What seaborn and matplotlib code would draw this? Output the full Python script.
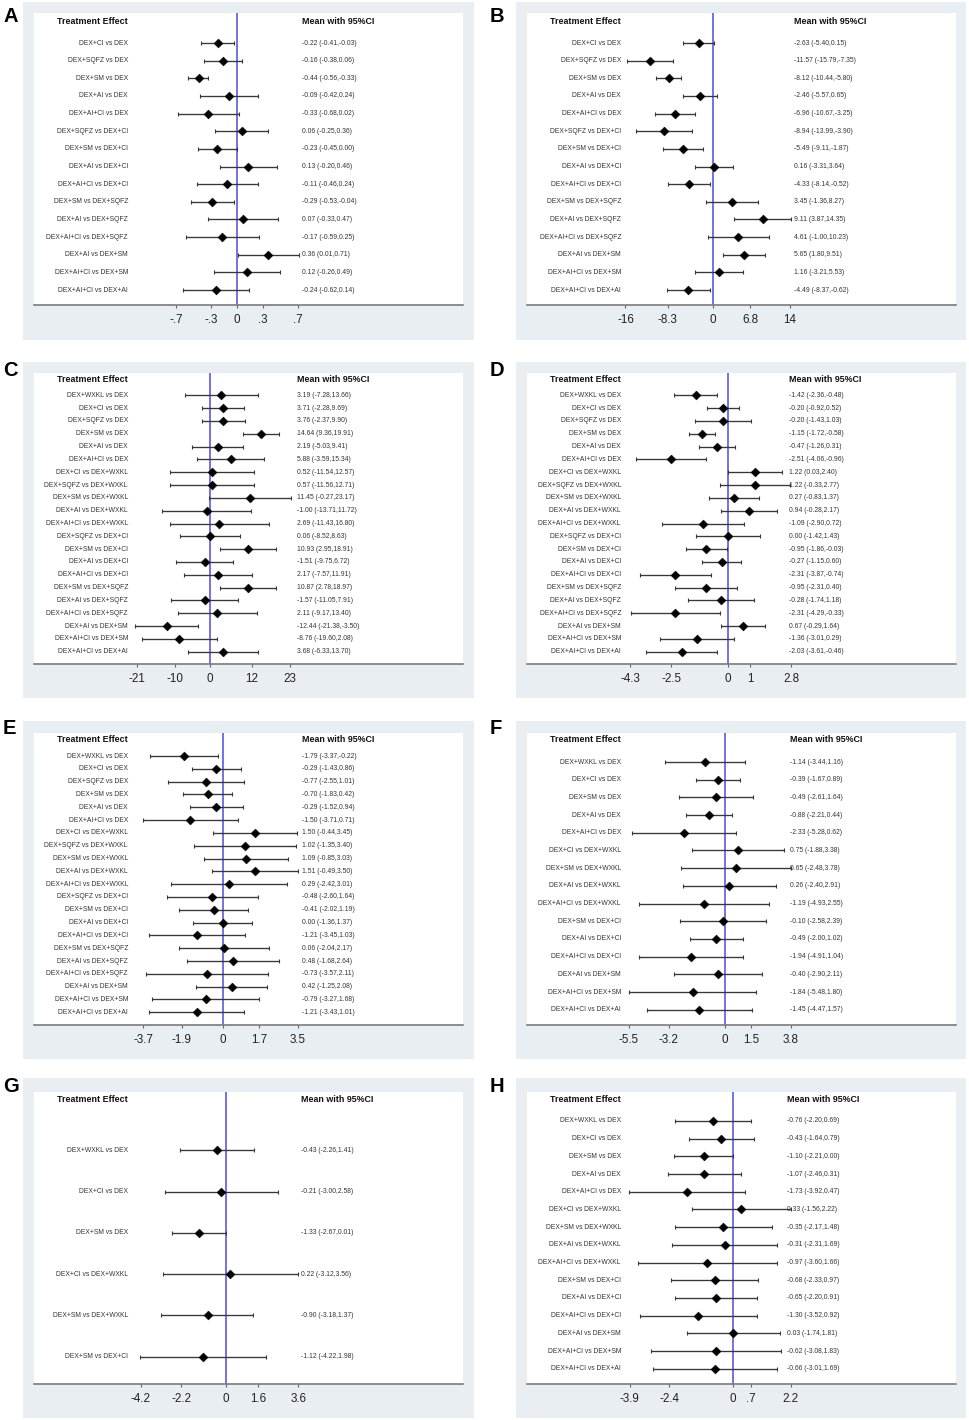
import numpy as np
import pandas as pd
import matplotlib
matplotlib.use("Agg")
import matplotlib.pyplot as plt
import matplotlib.transforms as mtransforms
from matplotlib.patches import Rectangle
import seaborn as sns

sns.set_theme(style="white")
plt.rcParams['font.family'] = ['Liberation Sans', 'DejaVu Sans']
plt.rcParams['axes.unicode_minus'] = False

# ---------------- DATA ----------------
labels_ab = ["DEX+CI vs DEX", "DEX+SQFZ vs DEX", "DEX+SM vs DEX", "DEX+AI vs DEX",
             "DEX+AI+CI vs DEX", "DEX+SQFZ vs DEX+CI", "DEX+SM vs DEX+CI", "DEX+AI vs DEX+CI",
             "DEX+AI+CI vs DEX+CI", "DEX+SM vs DEX+SQFZ", "DEX+AI vs DEX+SQFZ",
             "DEX+AI+CI vs DEX+SQFZ", "DEX+AI vs DEX+SM", "DEX+AI+CI vs DEX+SM",
             "DEX+AI+CI vs DEX+AI"]
labels_cde = ["DEX+WXKL vs DEX", "DEX+CI vs DEX", "DEX+SQFZ vs DEX", "DEX+SM vs DEX",
              "DEX+AI vs DEX", "DEX+AI+CI vs DEX", "DEX+CI vs DEX+WXKL", "DEX+SQFZ vs DEX+WXKL",
              "DEX+SM vs DEX+WXKL", "DEX+AI vs DEX+WXKL", "DEX+AI+CI vs DEX+WXKL",
              "DEX+SQFZ vs DEX+CI", "DEX+SM vs DEX+CI", "DEX+AI vs DEX+CI", "DEX+AI+CI vs DEX+CI",
              "DEX+SM vs DEX+SQFZ", "DEX+AI vs DEX+SQFZ", "DEX+AI+CI vs DEX+SQFZ",
              "DEX+AI vs DEX+SM", "DEX+AI+CI vs DEX+SM", "DEX+AI+CI vs DEX+AI"]
labels_fh = ["DEX+WXKL vs DEX", "DEX+CI vs DEX", "DEX+SM vs DEX", "DEX+AI vs DEX",
             "DEX+AI+CI vs DEX", "DEX+CI vs DEX+WXKL", "DEX+SM vs DEX+WXKL", "DEX+AI vs DEX+WXKL",
             "DEX+AI+CI vs DEX+WXKL", "DEX+SM vs DEX+CI", "DEX+AI vs DEX+CI",
             "DEX+AI+CI vs DEX+CI", "DEX+AI vs DEX+SM", "DEX+AI+CI vs DEX+SM",
             "DEX+AI+CI vs DEX+AI"]
labels_g = ["DEX+WXKL vs DEX", "DEX+CI vs DEX", "DEX+SM vs DEX", "DEX+CI vs DEX+WXKL",
            "DEX+SM vs DEX+WXKL", "DEX+SM vs DEX+CI"]

mean_a = [-0.22, -0.16, -0.44, -0.09, -0.33, 0.06, -0.23, 0.13, -0.11, -0.29, 0.07, -0.17, 0.36, 0.12, -0.24]
low_a  = [-0.41, -0.38, -0.56, -0.42, -0.68, -0.25, -0.45, -0.20, -0.46, -0.53, -0.33, -0.59, 0.01, -0.26, -0.62]
up_a   = [-0.03, 0.06, -0.33, 0.24, 0.02, 0.36, 0.00, 0.46, 0.24, -0.04, 0.47, 0.25, 0.71, 0.49, 0.14]

mean_b = [-2.63, -11.57, -8.12, -2.46, -6.96, -8.94, -5.49, 0.16, -4.33, 3.45, 9.11, 4.61, 5.65, 1.16, -4.49]
low_b  = [-5.40, -15.79, -10.44, -5.57, -10.67, -13.99, -9.11, -3.31, -8.14, -1.36, 3.87, -1.00, 1.80, -3.21, -8.37]
up_b   = [0.15, -7.35, -5.80, 0.65, -3.25, -3.90, -1.87, 3.64, -0.52, 8.27, 14.35, 10.23, 9.51, 5.53, -0.62]

mean_c = [3.19, 3.71, 3.76, 14.64, 2.19, 5.88, 0.52, 0.57, 11.45, -1.00, 2.69, 0.06, 10.93, -1.51, 2.17, 10.87, -1.57, 2.11, -12.44, -8.76, 3.68]
low_c  = [-7.28, -2.28, -2.37, 9.36, -5.03, -3.59, -11.54, -11.56, -0.27, -13.71, -11.43, -8.52, 2.95, -9.75, -7.57, 2.78, -11.05, -9.17, -21.38, -19.60, -6.33]
up_c   = [13.66, 9.69, 9.90, 19.91, 9.41, 15.34, 12.57, 12.71, 23.17, 11.72, 16.80, 8.63, 18.91, 6.72, 11.91, 18.97, 7.91, 13.40, -3.50, 2.08, 13.70]

mean_d = [-1.42, -0.20, -0.20, -1.15, -0.47, -2.51, 1.22, 1.22, 0.27, 0.94, -1.09, 0.00, -0.95, -0.27, -2.31, -0.95, -0.28, -2.31, 0.67, -1.36, -2.03]
low_d  = [-2.36, -0.92, -1.43, -1.72, -1.26, -4.06, 0.03, -0.33, -0.83, -0.28, -2.90, -1.42, -1.86, -1.15, -3.87, -2.31, -1.74, -4.29, -0.29, -3.01, -3.61]
up_d   = [-0.48, 0.52, 1.03, -0.58, 0.31, -0.96, 2.40, 2.77, 1.37, 2.17, 0.72, 1.43, -0.03, 0.60, -0.74, 0.40, 1.18, -0.33, 1.64, 0.29, -0.46]

mean_e = [-1.79, -0.29, -0.77, -0.70, -0.29, -1.50, 1.50, 1.02, 1.09, 1.51, 0.29, -0.48, -0.41, 0.00, -1.21, 0.06, 0.48, -0.73, 0.42, -0.79, -1.21]
low_e  = [-3.37, -1.43, -2.55, -1.83, -1.52, -3.71, -0.44, -1.35, -0.85, -0.49, -2.42, -2.60, -2.02, -1.36, -3.45, -2.04, -1.68, -3.57, -1.25, -3.27, -3.43]
up_e   = [-0.22, 0.86, 1.01, 0.42, 0.94, 0.71, 3.45, 3.40, 3.03, 3.50, 3.01, 1.64, 1.19, 1.37, 1.03, 2.17, 2.64, 2.11, 2.08, 1.68, 1.01]

mean_f = [-1.14, -0.39, -0.49, -0.88, -2.33, 0.75, 0.65, 0.26, -1.19, -0.10, -0.49, -1.94, -0.40, -1.84, -1.45]
low_f  = [-3.44, -1.67, -2.61, -2.21, -5.28, -1.88, -2.48, -2.40, -4.93, -2.58, -2.00, -4.91, -2.90, -5.48, -4.47]
up_f   = [1.16, 0.89, 1.64, 0.44, 0.62, 3.38, 3.78, 2.91, 2.55, 2.39, 1.02, 1.04, 2.11, 1.80, 1.57]

mean_g = [-0.43, -0.21, -1.33, 0.22, -0.90, -1.12]
low_g  = [-2.26, -3.00, -2.67, -3.12, -3.18, -4.22]
up_g   = [1.41, 2.58, 0.01, 3.56, 1.37, 1.98]

mean_h = [-0.76, -0.43, -1.10, -1.07, -1.73, 0.33, -0.35, -0.31, -0.97, -0.68, -0.65, -1.30, 0.03, -0.62, -0.66]
low_h  = [-2.20, -1.64, -2.21, -2.46, -3.92, -1.56, -2.17, -2.31, -3.60, -2.33, -2.20, -3.52, -1.74, -3.08, -3.01]
up_h   = [0.69, 0.79, 0.00, 0.31, 0.47, 2.22, 1.48, 1.69, 1.66, 0.97, 0.91, 0.92, 1.81, 1.83, 1.69]

ticks_a = [-0.7, -0.3, 0, 0.3, 0.7];   ticklabels_a = ["-.7", "-.3", "0", ".3", ".7"]
ticks_b = [-16, -8.3, 0, 6.8, 14];     ticklabels_b = ["-16", "-8.3", "0", "6.8", "14"]
ticks_c = [-21, -10, 0, 12, 23];       ticklabels_c = ["-21", "-10", "0", "12", "23"]
ticks_d = [-4.3, -2.5, 0, 1, 2.8];     ticklabels_d = ["-4.3", "-2.5", "0", "1", "2.8"]
ticks_e = [-3.7, -1.9, 0, 1.7, 3.5];   ticklabels_e = ["-3.7", "-1.9", "0", "1.7", "3.5"]
ticks_f = [-5.5, -3.2, 0, 1.5, 3.8];   ticklabels_f = ["-5.5", "-3.2", "0", "1.5", "3.8"]
ticks_g = [-4.2, -2.2, 0, 1.6, 3.6];   ticklabels_g = ["-4.2", "-2.2", "0", "1.6", "3.6"]
ticks_h = [-3.9, -2.4, 0, 0.7, 2.2];   ticklabels_h = ["-3.9", "-2.4", "0", ".7", "2.2"]

# ---------------- LAYOUT (pixels) ----------------
W, H = 969, 1420
BG = "#e8eef2"
cols = {0: (23, 474, 34, 463, 3), 1: (516, 966, 527, 956, 490)}
# letter, col, inner_top, axis_y, first_row, last_row, header_y, zero_px, px_per_unit, label_px, stat_px, bg_top, bg_bot, letter_top
layout = [
    ("A", 0, 13, 305, 43, 290, 21, 237, 87.1, 128, 302, 2, 340, 7),
    ("B", 1, 13, 305, 43, 290, 21, 713, 5.47, 621, 794, 2, 340, 7),
    ("C", 0, 373, 664, 395.3, 651.7, 379, 210, 3.49, 128, 297, 362, 698, 361),
    ("D", 1, 373, 664, 395.3, 651.7, 379, 727.7, 22.65, 621, 789, 362, 698, 361),
    ("E", 0, 733, 1025, 756, 1012.3, 740, 222.7, 21.5, 128, 302, 721, 1059, 719),
    ("F", 1, 733, 1025, 762, 1009.7, 740, 724.7, 17.47, 621, 790, 721, 1059, 719),
    ("G", 0, 1092, 1384, 1150.3, 1356.7, 1099, 225.7, 20.2, 128, 300.7, 1078, 1418, 1077),
    ("H", 1, 1092, 1384, 1121, 1368.7, 1099, 732.7, 26.4, 621, 786.7, 1078, 1418, 1077),
]

datasets = {
    "A": (labels_ab, mean_a, low_a, up_a, ticks_a, ticklabels_a),
    "B": (labels_ab, mean_b, low_b, up_b, ticks_b, ticklabels_b),
    "C": (labels_cde, mean_c, low_c, up_c, ticks_c, ticklabels_c),
    "D": (labels_cde, mean_d, low_d, up_d, ticks_d, ticklabels_d),
    "E": (labels_cde, mean_e, low_e, up_e, ticks_e, ticklabels_e),
    "F": (labels_fh, mean_f, low_f, up_f, ticks_f, ticklabels_f),
    "G": (labels_g, mean_g, low_g, up_g, ticks_g, ticklabels_g),
    "H": (labels_fh, mean_h, low_h, up_h, ticks_h, ticklabels_h),
}

fig = plt.figure(figsize=(W / 100, H / 100), dpi=100)
fig.patch.set_facecolor("white")

for (letter, col, itop, axy, first, last, hdr, zpx, scale, labpx, statpx, bgt, bgb, lett) in layout:
    ox0, ox1, x0, x1, letx = cols[col]
    # outer background
    rect = Rectangle((ox0 / W, 1 - bgb / H), (ox1 - ox0) / W, (bgb - bgt) / H,
                     transform=fig.transFigure, facecolor=BG, edgecolor="none", zorder=-10)
    fig.add_artist(rect)
    fig.text(letx / W, 1 - lett / H, letter, fontsize=14.5, fontweight="bold", ha="left", va="top",
             color="black")

    labels, mean, low, up, ticks, ticklabels = datasets[letter]
    n = len(labels)
    df = pd.DataFrame({"label": labels, "mean": mean, "low": low, "up": up})
    df["row"] = np.arange(n)

    ax = fig.add_axes([x0 / W, 1 - axy / H, (x1 - x0) / W, (axy - itop) / H])
    ax.set_zorder(5)
    ax.set_facecolor("white")
    d = (last - first) / (n - 1)
    ax.set_ylim((n - 1) + (axy - last) / d, -(first - itop) / d)
    ax.set_xlim((x0 - zpx) / scale, (x1 - zpx) / scale)

    ax.axvline(0, color="#4b4bdc", lw=1.1, zorder=1)
    ax.errorbar(df["mean"], df["row"], xerr=[df["mean"] - df["low"], df["up"] - df["mean"]],
                fmt="none", ecolor="#3a3636", elinewidth=0.95, capsize=1.3, capthick=0.8, zorder=2)
    sns.scatterplot(data=df, x="mean", y="row", marker="D", s=21, color="black",
                    edgecolor="black", linewidth=0.3, ax=ax, legend=False, zorder=3)

    tr = mtransforms.blended_transform_factory(ax.transAxes, ax.transData)
    lfrac = (labpx - x0) / (x1 - x0)
    sfrac = (statpx - x0) / (x1 - x0)
    for _, r in df.iterrows():
        ax.text(lfrac, r["row"], r["label"], transform=tr, ha="right", va="center",
                fontsize=4.9, color="#333333")
        ax.text(sfrac, r["row"], f"{r['mean']:.2f} ({r['low']:.2f},{r['up']:.2f})", transform=tr,
                ha="left", va="center", fontsize=4.9, color="#333333")
    hy = -(first - hdr) / d
    ax.text(lfrac, hy, "Treatment Effect", transform=tr, ha="right", va="center",
            fontsize=6.4, fontweight="bold", color="#111111")
    ax.text(sfrac, hy, "Mean with 95%CI", transform=tr, ha="left", va="center",
            fontsize=6.4, fontweight="bold", color="#111111")

    ax.set_xlabel("")
    ax.set_ylabel("")
    ax.set_yticks([])
    ax.set_xticks(ticks)
    ax.set_xticklabels(ticklabels)
    ax.tick_params(axis="x", direction="out", length=2.2, width=0.8, color="#666666",
                   labelsize=8.4, labelcolor="#222222", pad=4.5, bottom=True)
    for s in ["top", "left", "right"]:
        ax.spines[s].set_visible(False)
    ax.spines["bottom"].set_color("#7a7a7a")
    ax.spines["bottom"].set_linewidth(1.2)

fig.savefig("out.png", dpi=100, facecolor="white")
